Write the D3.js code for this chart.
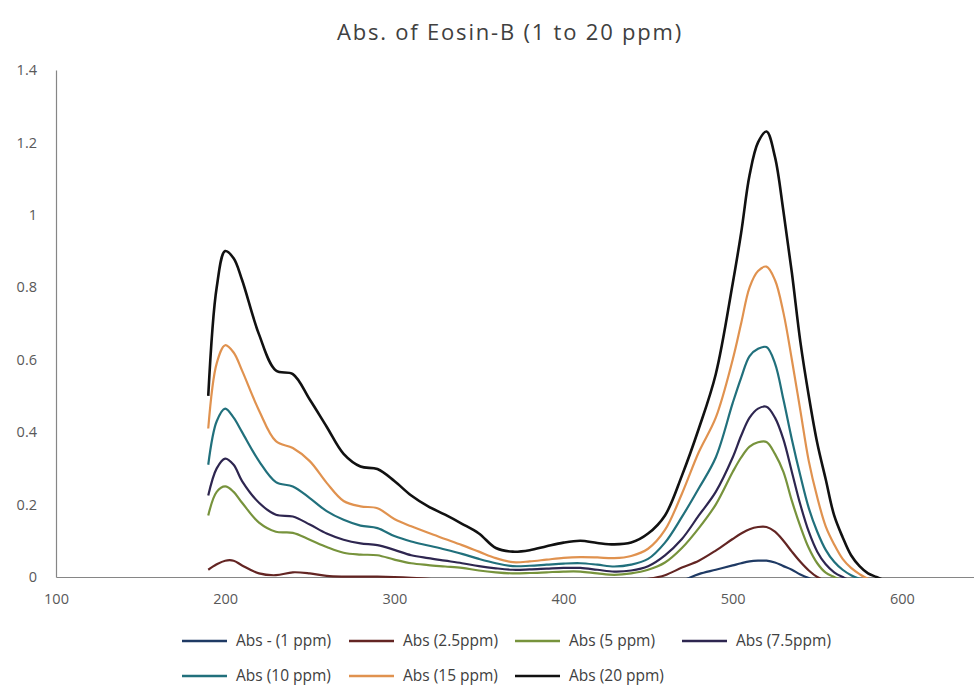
<!DOCTYPE html>
<html>
<head>
<meta charset="utf-8">
<script src="https://cdn.jsdelivr.net/npm/d3@7"></script>
<style>
  body { margin: 0; background: #fff; }
  #chart { width: 974px; height: 686px; }
</style>
</head>
<body>
<div id="chart"></div>
<script>
// wavelength (nm)
let wavelengths = [190,195,200,205,210,220,230,240,250,260,270,280,290,300,310,320,330,340,350,360,370,380,390,400,410,420,430,440,450,460,470,480,490,500,505,510,515,520,525,530,535,540,545,550,555,560,565,570,575,580,585,590];

let seriesNames = ["Abs - (1 ppm)", "Abs (2.5ppm)", "Abs (5 ppm)", "Abs (7.5ppm)", "Abs (10 ppm)", "Abs (15 ppm)", "Abs (20 ppm)"];

let abs1 = [-0.02,-0.02,-0.02,-0.02,-0.02,-0.02,-0.02,-0.02,-0.02,-0.02,-0.02,-0.02,-0.02,-0.02,-0.02,-0.02,-0.02,-0.02,-0.02,-0.02,-0.02,-0.02,-0.02,-0.02,-0.02,-0.02,-0.02,-0.02,-0.02,-0.02,-0.01,0.008,0.02,0.032,0.038,0.043,0.045,0.045,0.04,0.03,0.02,0.007,-0.003,-0.01,-0.01,-0.01,-0.01,-0.01,-0.01,-0.01,-0.01,-0.01];
let abs25 = [0.02,0.035,0.045,0.045,0.032,0.01,0.005,0.013,0.01,0.003,0.001,0.001,0.001,0.0,-0.002,-0.005,-0.01,-0.01,-0.01,-0.01,-0.01,-0.01,-0.01,-0.01,-0.01,-0.01,-0.01,-0.01,-0.005,0.005,0.026,0.045,0.073,0.105,0.12,0.132,0.138,0.138,0.125,0.10,0.07,0.042,0.018,0.0,-0.01,-0.01,-0.01,-0.01,-0.01,-0.01,-0.01,-0.01];
let abs5 = [0.17,0.235,0.25,0.235,0.205,0.15,0.125,0.122,0.103,0.083,0.067,0.062,0.06,0.048,0.038,0.033,0.029,0.025,0.018,0.013,0.01,0.011,0.013,0.015,0.015,0.01,0.006,0.01,0.02,0.04,0.08,0.135,0.2,0.29,0.33,0.36,0.372,0.373,0.34,0.29,0.21,0.14,0.08,0.038,0.012,0,-0.01,-0.01,-0.01,-0.01,-0.01,-0.01];
let abs75 = [0.225,0.30,0.327,0.31,0.265,0.205,0.172,0.167,0.145,0.12,0.103,0.093,0.088,0.075,0.06,0.052,0.045,0.038,0.03,0.024,0.02,0.021,0.023,0.025,0.025,0.02,0.015,0.018,0.03,0.06,0.105,0.17,0.235,0.33,0.39,0.44,0.465,0.47,0.44,0.38,0.29,0.2,0.125,0.07,0.035,0.013,0,-0.01,-0.01,-0.01,-0.01,-0.01];
let abs10 = [0.31,0.43,0.465,0.44,0.40,0.32,0.262,0.25,0.218,0.182,0.158,0.142,0.135,0.113,0.098,0.087,0.076,0.064,0.05,0.038,0.03,0.031,0.034,0.037,0.038,0.034,0.029,0.034,0.05,0.095,0.166,0.245,0.33,0.48,0.55,0.61,0.63,0.635,0.59,0.49,0.38,0.28,0.19,0.125,0.075,0.042,0.02,0.005,-0.005,-0.01,-0.01,-0.01];
let abs15 = [0.41,0.59,0.64,0.62,0.57,0.46,0.375,0.356,0.32,0.26,0.21,0.195,0.19,0.16,0.14,0.122,0.105,0.088,0.07,0.052,0.041,0.043,0.048,0.053,0.055,0.054,0.052,0.058,0.078,0.13,0.23,0.345,0.44,0.60,0.70,0.80,0.845,0.857,0.82,0.73,0.60,0.46,0.32,0.22,0.14,0.09,0.05,0.025,0.008,-0.005,-0.01,-0.01];
let abs20 = [0.50,0.80,0.90,0.88,0.82,0.67,0.57,0.56,0.49,0.415,0.34,0.305,0.298,0.265,0.225,0.195,0.172,0.147,0.12,0.08,0.07,0.074,0.085,0.095,0.10,0.094,0.09,0.095,0.12,0.17,0.28,0.41,0.56,0.81,0.95,1.11,1.20,1.23,1.16,1.01,0.84,0.65,0.50,0.37,0.27,0.17,0.11,0.06,0.03,0.01,0,-0.01];

let seriesValues = [abs1, abs25, abs5, abs75, abs10, abs15, abs20];
let seriesColors = ["#1f3a64", "#632523", "#77933c", "#2e2650", "#21707c", "#e0924f", "#111111"];

let xTicks = [100, 200, 300, 400, 500, 600];
let yTicks = [0, 0.2, 0.4, 0.6, 0.8, 1, 1.2, 1.4];

let width = 974, height = 686;
let fontFam = "'Open Sans', 'Noto Sans', sans-serif";

let svg = d3.select("#chart").append("svg")
  .attr("width", width)
  .attr("height", height)
  .style("font-family", fontFam);

// scales (x runs past the right edge like the cropped original)
let xScale = d3.scaleLinear().domain([100, 700]).range([56, 1071]);
let yScale = d3.scaleLinear().domain([0, 1.4]).range([577, 70]);

// title
svg.append("text")
  .attr("x", 510)
  .attr("y", 40)
  .attr("text-anchor", "middle")
  .attr("font-size", 22)
  .attr("letter-spacing", 1.8)
  .attr("fill", "#404040")
  .text("Abs. of Eosin-B (1 to 20 ppm)");

// y axis
let yAxis = svg.append("g")
  .attr("transform", `translate(${xScale(100)},0)`)
  .call(d3.axisLeft(yScale).tickValues(yTicks).tickSize(0).tickPadding(19)
    .tickFormat(d => String(+d.toFixed(1))));
yAxis.select(".domain").attr("stroke", "#868686").attr("stroke-width", 1.2);
yAxis.selectAll("text").attr("font-size", 14.5).attr("fill", "#595959").attr("font-family", fontFam);

// x axis
let xAxis = svg.append("g")
  .attr("transform", `translate(0,${yScale(0)})`)
  .call(d3.axisBottom(xScale).tickValues(xTicks).tickSize(0).tickPadding(17));
xAxis.select(".domain").attr("stroke", "#868686").attr("stroke-width", 1.2);
xAxis.selectAll("text").attr("font-size", 14.5).attr("fill", "#595959").attr("font-family", fontFam);

// clip to plot area
svg.append("clipPath").attr("id", "plot")
  .append("rect")
  .attr("x", xScale(100))
  .attr("y", yScale(1.4) - 10)
  .attr("width", width - xScale(100))
  .attr("height", yScale(0) - yScale(1.4) + 11);

let line = d3.line()
  .x((d, i) => xScale(wavelengths[i]))
  .y(d => yScale(d))
  .curve(d3.curveCatmullRom.alpha(0.5));

svg.append("g")
  .attr("clip-path", "url(#plot)")
  .selectAll("path")
  .data(seriesValues)
  .enter()
  .append("path")
  .attr("d", d => line(d))
  .attr("fill", "none")
  .attr("stroke", (d, i) => seriesColors[i])
  .attr("stroke-width", (d, i) => i == 6 ? 2.6 : 2.2)
  .attr("stroke-linejoin", "round");

// legend, 4 columns x 2 rows
let legendCols = [236, 403, 569, 736];
let legendRows = [641, 676];

let legend = svg.append("g")
  .selectAll("g")
  .data(seriesNames)
  .enter()
  .append("g")
  .attr("transform", (d, i) => `translate(${legendCols[i % 4]},${legendRows[Math.floor(i / 4)]})`);

legend.append("line")
  .attr("x1", -54)
  .attr("x2", -9)
  .attr("y1", 0)
  .attr("y2", 0)
  .attr("stroke", (d, i) => seriesColors[i])
  .attr("stroke-width", 2.6);

legend.append("text")
  .attr("x", 0)
  .attr("y", 0)
  .attr("dy", "0.35em")
  .attr("font-size", 15.5)
  .attr("fill", "#404040")
  .text(d => d);
</script>
</body>
</html>
